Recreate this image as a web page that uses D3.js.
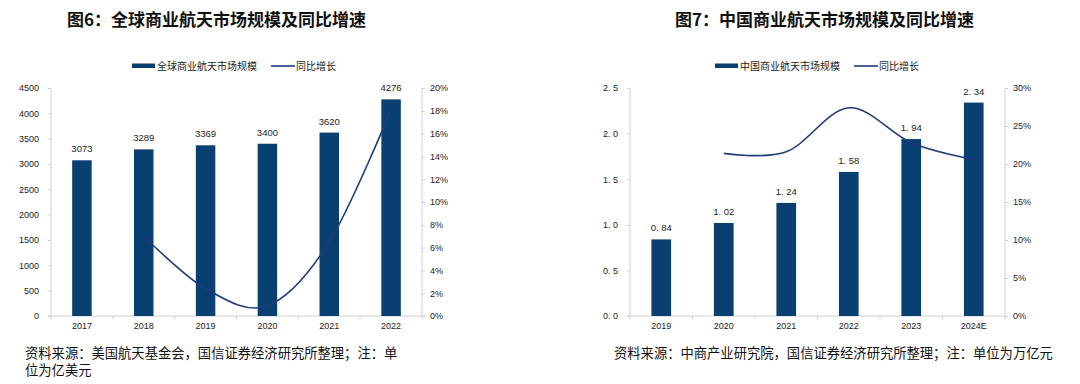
<!DOCTYPE html>
<html>
<head>
<meta charset="utf-8">
<script src="https://cdn.jsdelivr.net/npm/d3@7"></script>
<style>
  body { margin: 0; background: #ffffff; }
  svg { display: block; }
  .cjk { font-family: "Noto Sans CJK SC", sans-serif; }
  .num { font-family: "Liberation Sans", Arial, sans-serif; }
</style>
</head>
<body>
<div id="chart"></div>
<script>
// Chart 6: global commercial space market (100 million USD)
const globalYears = ["2017", "2018", "2019", "2020", "2021", "2022"];
const globalSize = [3073, 3289, 3369, 3400, 3620, 4276];
const globalGrowth = [null, 7.0, 2.4, 0.9, 6.5, 18.1];
const globalLeftTicks = [0, 500, 1000, 1500, 2000, 2500, 3000, 3500, 4000, 4500];
const globalRightTicks = [0, 2, 4, 6, 8, 10, 12, 14, 16, 18, 20];

// Chart 7: China commercial space market (trillion CNY)
const chinaYears = ["2019", "2020", "2021", "2022", "2023", "2024E"];
const chinaSize = [0.84, 1.02, 1.24, 1.58, 1.94, 2.34];
const chinaGrowth = [null, 21.4, 21.6, 27.4, 22.8, 20.6];
const chinaLeftTicks = [0, 0.5, 1.0, 1.5, 2.0, 2.5];
const chinaRightTicks = [0, 5, 10, 15, 20, 25, 30];

const W = 1080, H = 384;
const barColor = "#0a3f72";
const lineColor = "#1f3c7a";
const axisColor = "#cfcfcf";

const svg = d3.select("#chart").append("svg")
    .attr("width", W)
    .attr("height", H);

function drawChart(cfg) {
    const g = svg.append("g");

    // title
    g.append("text")
        .attr("class", "cjk")
        .attr("x", cfg.titleX)
        .attr("y", 26)
        .style("font-size", "17px")
        .style("font-weight", "bold")
        .attr("fill", "#111")
        .text(cfg.title);

    const x = d3.scaleBand()
        .domain(cfg.years)
        .range([cfg.left, cfg.right])
        .padding(0);
    const y = d3.scaleLinear()
        .domain([0, cfg.leftTicks[cfg.leftTicks.length - 1]])
        .range([cfg.bottom, cfg.top]);
    const y2 = d3.scaleLinear()
        .domain([0, cfg.rightTicks[cfg.rightTicks.length - 1]])
        .range([cfg.bottom, cfg.top]);

    // left axis
    const yAxis = g.append("g")
        .attr("transform", `translate(${cfg.left},0)`)
        .call(d3.axisLeft(y).tickValues(cfg.leftTicks).tickSize(3).tickPadding(9).tickFormat(cfg.leftFmt));
    // right axis
    const y2Axis = g.append("g")
        .attr("transform", `translate(${cfg.right},0)`)
        .call(d3.axisRight(y2).tickValues(cfg.rightTicks).tickSize(3).tickPadding(5).tickFormat(d => d + "%"));
    [yAxis, y2Axis].forEach(a => {
        a.select(".domain").attr("stroke", axisColor).attr("d", `M0,${cfg.top}V${cfg.bottom}`);
        a.selectAll(".tick line").attr("stroke", axisColor);
        a.selectAll("text")
            .attr("class", "num")
            .style("font-size", "9px")
            .attr("fill", "#222");
    });

    // bottom axis: labels at centres, ticks at band edges
    const xAxis = g.append("g")
        .attr("transform", `translate(0,${cfg.bottom})`)
        .call(d3.axisBottom(x).tickSize(0).tickPadding(7));
    xAxis.select(".domain").attr("stroke", axisColor).attr("d", `M${cfg.left - 3},0H${cfg.right + 1}`);
    xAxis.selectAll("text")
        .attr("class", "num")
        .style("font-size", "9px")
        .attr("fill", "#222");
    const edges = cfg.years.map(d => x(d)).concat([cfg.right]);
    xAxis.selectAll(".edge")
        .data(edges)
        .enter().append("line")
        .attr("x1", d => d).attr("x2", d => d)
        .attr("y1", 0).attr("y2", 3)
        .attr("stroke", axisColor);

    // bars
    const bw = x.bandwidth() * 0.315;
    g.selectAll(".bar")
        .data(cfg.size)
        .enter().append("rect")
        .attr("x", (d, i) => x(cfg.years[i]) + (x.bandwidth() - bw) / 2)
        .attr("y", d => y(d))
        .attr("width", bw)
        .attr("height", d => cfg.bottom - y(d))
        .attr("fill", barColor);

    // bar labels
    g.selectAll(".lbl")
        .data(cfg.size)
        .enter().append("text")
        .attr("class", "num")
        .attr("x", (d, i) => x(cfg.years[i]) + x.bandwidth() / 2)
        .attr("y", d => y(d) - 8)
        .attr("text-anchor", "middle")
        .style("font-size", "9.5px")
        .attr("fill", "#222")
        .text(cfg.labelFmt);

    // growth line
    const pts = cfg.growth
        .map((v, i) => ({ v: v, yr: cfg.years[i] }))
        .filter(d => d.v !== null);
    const line = d3.line()
        .x(d => x(d.yr) + x.bandwidth() / 2)
        .y(d => y2(d.v))
        .curve(d3.curveCatmullRom.alpha(0));
    g.append("path")
        .datum(pts)
        .attr("d", line)
        .attr("fill", "none")
        .attr("stroke", lineColor)
        .attr("stroke-width", 1.6);

    // legend
    const lg = g.append("g");
    lg.append("rect")
        .attr("x", cfg.legX).attr("y", 63.5)
        .attr("width", 23).attr("height", 4.5)
        .attr("fill", barColor);
    lg.append("text")
        .attr("class", "cjk")
        .attr("x", cfg.legX + 25).attr("y", 69.5)
        .style("font-size", "10px")
        .attr("fill", "#222")
        .text(cfg.legBar);
    lg.append("line")
        .attr("x1", cfg.legLineX).attr("x2", cfg.legLineX + 24)
        .attr("y1", 66).attr("y2", 66)
        .attr("stroke", lineColor)
        .attr("stroke-width", 1.6);
    lg.append("text")
        .attr("class", "cjk")
        .attr("x", cfg.legLineX + 25).attr("y", 69.5)
        .style("font-size", "10px")
        .attr("fill", "#222")
        .text("同比增长");

    // source note
    const note = g.append("text")
        .attr("class", "cjk")
        .style("font-size", "13.3px")
        .attr("fill", "#111");
    cfg.note.forEach((t, i) => {
        note.append("tspan")
            .attr("x", cfg.noteX)
            .attr("y", 357.5 + i * 17)
            .text(t);
    });
}

drawChart({
    title: "图6：全球商业航天市场规模及同比增速",
    titleX: 67,
    years: globalYears,
    size: globalSize,
    growth: globalGrowth,
    leftTicks: globalLeftTicks,
    rightTicks: globalRightTicks,
    leftFmt: d => d,
    labelFmt: d => d,
    left: 51, right: 422, top: 88, bottom: 316,
    legX: 132, legLineX: 271,
    legBar: "全球商业航天市场规模",
    note: ["资料来源：美国航天基金会，国信证券经济研究所整理；注：单", "位为亿美元"],
    noteX: 25
});

drawChart({
    title: "图7：中国商业航天市场规模及同比增速",
    titleX: 675,
    years: chinaYears,
    size: chinaSize,
    growth: chinaGrowth,
    leftTicks: chinaLeftTicks,
    rightTicks: chinaRightTicks,
    leftFmt: d => d3.format(".1f")(d).replace(".", ". "),
    labelFmt: d => d3.format(".2f")(d).replace(".", ". "),
    left: 630, right: 1005, top: 88, bottom: 316,
    legX: 715, legLineX: 854,
    legBar: "中国商业航天市场规模",
    note: ["资料来源：中商产业研究院，国信证券经济研究所整理；注：单位为万亿元"],
    noteX: 614
});
</script>
</body>
</html>
